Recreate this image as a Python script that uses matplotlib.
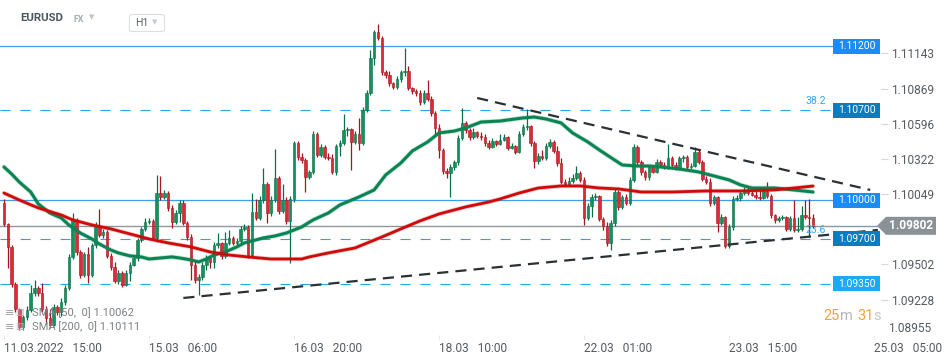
# EURUSD H1 chart with SMA 50/200, levels and a triangle
import numpy as np
import matplotlib
matplotlib.use("Agg")
import matplotlib.pyplot as plt
from matplotlib.patches import Rectangle, Polygon, FancyBboxPatch

plt.rcParams['font.family'] = ['Roboto', 'DejaVu Sans']

# ---- data ----
open0 = 1.09980
close = [1.09816, 1.09638, 1.09350, 1.09156, 1.09016, 1.09093, 1.09148, 1.09280, 1.09319, 1.09280,
         1.09156, 1.09086, 1.09031, 1.09171, 1.09132, 1.09210, 1.09319, 1.09560, 1.09848, 1.09599,
         1.09420, 1.09583, 1.09420, 1.09653, 1.09801, 1.09731, 1.09754, 1.09568, 1.09482, 1.09373,
         1.09435, 1.09342, 1.09435, 1.09498, 1.09552, 1.09692, 1.09778, 1.09832, 1.09840, 1.09708,
         1.10057, 1.10026, 1.10057, 1.09941, 1.09832, 1.09902, 1.09980, 1.09824, 1.09715, 1.09498,
         1.09381, 1.09404, 1.09498, 1.09552, 1.09521, 1.09653, 1.09669, 1.09568, 1.09669, 1.09708,
         1.09669, 1.09684, 1.09778, 1.09793, 1.09575, 1.09910, 1.09863, 1.10003, 1.10127, 1.09902,
         1.10003, 1.10174, 1.09917, 1.10003, 1.09840, 1.10011, 1.10446, 1.10337, 1.10314, 1.10182,
         1.10221, 1.10516, 1.10353, 1.10415, 1.10337, 1.10330, 1.10221, 1.10423, 1.10446, 1.10547,
         1.10555, 1.10454, 1.10516, 1.10446, 1.10703, 1.10835, 1.11107, 1.11309, 1.11263, 1.10998,
         1.10975, 1.10913, 1.10882, 1.10944, 1.10998, 1.11006, 1.10874, 1.10850, 1.10835, 1.10765,
         1.10835, 1.10788, 1.10679, 1.10563, 1.10392, 1.10228, 1.10213, 1.10260, 1.10298, 1.10485,
         1.10602, 1.10547, 1.10493, 1.10532, 1.10501, 1.10493, 1.10446, 1.10415, 1.10462, 1.10438,
         1.10470, 1.10493, 1.10407, 1.10423, 1.10376, 1.10516, 1.10571, 1.10578, 1.10446, 1.10306,
         1.10345, 1.10330, 1.10423, 1.10454, 1.10384, 1.10291, 1.10143, 1.10127, 1.10151, 1.10174,
         1.10213, 1.10159, 1.09863, 1.09956, 1.10026, 1.10034, 1.09855, 1.09801, 1.09669, 1.09824,
         1.10065, 1.09949, 1.10026, 1.09980, 1.10159, 1.10415, 1.10298, 1.10221, 1.10182, 1.10260,
         1.10221, 1.10298, 1.10275, 1.10260, 1.10330, 1.10275, 1.10252, 1.10330, 1.10337, 1.10260,
         1.10267, 1.10376, 1.10298, 1.10166, 1.10143, 1.09980, 1.10026, 1.09824, 1.09871, 1.09645,
         1.09793, 1.10011, 1.10019, 1.10057, 1.10081, 1.10057, 1.10042, 1.10026, 1.10019, 1.10073,
         1.10034, 1.09886, 1.09848, 1.09863, 1.09871, 1.09778, 1.09863, 1.09770, 1.09778, 1.09886,
         1.09871, 1.09863, 1.09802]
high = [1.10011, 1.09824, 1.09653, 1.09365, 1.09163, 1.09109, 1.09179, 1.09342, 1.09381, 1.09334,
        1.09358, 1.09179, 1.09156, 1.09194, 1.09187, 1.09241, 1.09342, 1.09583, 1.09902, 1.09863,
        1.09614, 1.09599, 1.09638, 1.09669, 1.09832, 1.09933, 1.09778, 1.09770, 1.09591, 1.09521,
        1.09459, 1.09451, 1.09459, 1.09521, 1.09575, 1.09708, 1.09793, 1.09863, 1.09863, 1.09855,
        1.10197, 1.10190, 1.10081, 1.10073, 1.09964, 1.09925, 1.10003, 1.10003, 1.09840, 1.09739,
        1.09529, 1.09428, 1.09521, 1.09575, 1.09560, 1.09676, 1.09746, 1.09676, 1.09754, 1.09770,
        1.09723, 1.09708, 1.09801, 1.09816, 1.09809, 1.10057, 1.10011, 1.10034, 1.10252, 1.10143,
        1.10034, 1.10400, 1.10190, 1.10127, 1.10026, 1.10034, 1.10462, 1.10462, 1.10368, 1.10330,
        1.10236, 1.10539, 1.10532, 1.10438, 1.10431, 1.10368, 1.10361, 1.10438, 1.10470, 1.10672,
        1.10571, 1.10563, 1.10539, 1.10641, 1.10726, 1.10858, 1.11169, 1.11325, 1.11371, 1.11278,
        1.11014, 1.11006, 1.10920, 1.10967, 1.11014, 1.11185, 1.11045, 1.10882, 1.10866, 1.10858,
        1.10858, 1.10936, 1.10812, 1.10695, 1.10594, 1.10407, 1.10252, 1.10283, 1.10314, 1.10508,
        1.10718, 1.10617, 1.10563, 1.10563, 1.10539, 1.10532, 1.10516, 1.10470, 1.10485, 1.10470,
        1.10516, 1.10516, 1.10501, 1.10446, 1.10431, 1.10539, 1.10594, 1.10711, 1.10586, 1.10462,
        1.10368, 1.10392, 1.10446, 1.10477, 1.10470, 1.10423, 1.10330, 1.10166, 1.10182, 1.10205,
        1.10267, 1.10228, 1.10182, 1.09980, 1.10050, 1.10057, 1.10042, 1.09871, 1.09832, 1.09848,
        1.10089, 1.10081, 1.10042, 1.10050, 1.10182, 1.10438, 1.10431, 1.10314, 1.10236, 1.10275,
        1.10275, 1.10322, 1.10314, 1.10298, 1.10438, 1.10345, 1.10298, 1.10345, 1.10353, 1.10353,
        1.10291, 1.10415, 1.10392, 1.10314, 1.10190, 1.10174, 1.10042, 1.10034, 1.09894, 1.09879,
        1.09816, 1.10034, 1.10042, 1.10081, 1.10104, 1.10112, 1.10089, 1.10104, 1.10081, 1.10089,
        1.10143, 1.10050, 1.09894, 1.09879, 1.09886, 1.09879, 1.09879, 1.10003, 1.09871, 1.09956,
        1.10003, 1.10011, 1.09894]
low = [1.09801, 1.09474, 1.09327, 1.09132, 1.08992, 1.08992, 1.09070, 1.09132, 1.09257, 1.09257,
       1.09132, 1.09039, 1.09008, 1.09023, 1.09109, 1.09101, 1.09187, 1.09303, 1.09544, 1.09575,
       1.09397, 1.09404, 1.09358, 1.09404, 1.09630, 1.09715, 1.09708, 1.09552, 1.09459, 1.09358,
       1.09350, 1.09327, 1.09334, 1.09373, 1.09490, 1.09529, 1.09676, 1.09762, 1.09816, 1.09692,
       1.09676, 1.10003, 1.10011, 1.09917, 1.09785, 1.09816, 1.09832, 1.09809, 1.09692, 1.09381,
       1.09358, 1.09264, 1.09381, 1.09459, 1.09474, 1.09474, 1.09630, 1.09544, 1.09552, 1.09653,
       1.09653, 1.09653, 1.09661, 1.09762, 1.09552, 1.09560, 1.09848, 1.09848, 1.09980, 1.09824,
       1.09879, 1.09987, 1.09894, 1.09902, 1.09816, 1.09513, 1.09987, 1.10314, 1.10291, 1.10065,
       1.10166, 1.10205, 1.10337, 1.10337, 1.10322, 1.10314, 1.10205, 1.10197, 1.10345, 1.10431,
       1.10501, 1.10236, 1.10438, 1.10392, 1.10431, 1.10687, 1.10819, 1.11053, 1.11247, 1.10975,
       1.10952, 1.10889, 1.10866, 1.10866, 1.10920, 1.10967, 1.10858, 1.10827, 1.10812, 1.10742,
       1.10749, 1.10773, 1.10656, 1.10508, 1.10330, 1.10205, 1.10174, 1.10026, 1.10236, 1.10275,
       1.10470, 1.10524, 1.10470, 1.10477, 1.10485, 1.10470, 1.10423, 1.10400, 1.10407, 1.10423,
       1.10431, 1.10462, 1.10392, 1.10400, 1.10361, 1.10368, 1.10501, 1.10547, 1.10423, 1.10252,
       1.10283, 1.10314, 1.10314, 1.10407, 1.10368, 1.10267, 1.10127, 1.10112, 1.10120, 1.10135,
       1.10159, 1.10143, 1.09809, 1.09848, 1.09871, 1.10003, 1.09840, 1.09770, 1.09645, 1.09614,
       1.09801, 1.09925, 1.09933, 1.09964, 1.09964, 1.10143, 1.10267, 1.10197, 1.10159, 1.10159,
       1.10213, 1.10213, 1.10260, 1.10244, 1.10244, 1.10260, 1.10236, 1.10236, 1.10298, 1.10244,
       1.10244, 1.10260, 1.10283, 1.10151, 1.10127, 1.09956, 1.09964, 1.09754, 1.09809, 1.09630,
       1.09630, 1.09770, 1.09995, 1.09995, 1.10042, 1.10042, 1.10034, 1.10011, 1.10003, 1.10011,
       1.10019, 1.09863, 1.09824, 1.09832, 1.09848, 1.09762, 1.09762, 1.09754, 1.09754, 1.09762,
       1.09855, 1.09715, 1.09785]

sma50_idx = [0, 2, 4, 7, 9, 12, 15, 17, 20, 23, 25, 28, 30, 33, 36, 38, 41, 44, 46, 49, 51, 53, 55,
             58, 61, 63, 66, 68, 71, 74, 78, 81, 85, 88, 93, 97, 100, 104, 107, 111, 114, 118, 121,
             125, 130, 136, 139, 142, 146, 149, 153, 156, 160, 162, 166, 169, 172, 177, 182, 186,
             190, 193, 196, 202, 207, 212]
sma50 = [1.10260, 1.10205, 1.10143, 1.10065, 1.09972, 1.09902, 1.09863, 1.09809, 1.09746, 1.09700,
         1.09661, 1.09614, 1.09591, 1.09568, 1.09560, 1.09544, 1.09552, 1.09560, 1.09552, 1.09537,
         1.09521, 1.09544, 1.09575, 1.09599, 1.09638, 1.09669, 1.09692, 1.09708, 1.09723, 1.09746,
         1.09793, 1.09848, 1.09902, 1.09964, 1.10026, 1.10081, 1.10197, 1.10291, 1.10384, 1.10454,
         1.10524, 1.10539, 1.10563, 1.10609, 1.10617, 1.10641, 1.10648, 1.10633, 1.10602, 1.10524,
         1.10454, 1.10392, 1.10314, 1.10275, 1.10267, 1.10267, 1.10260, 1.10244, 1.10221, 1.10190,
         1.10159, 1.10120, 1.10096, 1.10096, 1.10081, 1.10065]
sma200_idx = [0, 4, 9, 15, 18, 23, 28, 33, 38, 43, 49, 54, 59, 64, 70, 76, 78, 80, 85, 92, 99, 104,
              109, 114, 121, 127, 130, 135, 140, 146, 151, 156, 161, 167, 175, 184, 193, 202, 207, 212]
sma200 = [1.10057, 1.10003, 1.09941, 1.09886, 1.09848, 1.09809, 1.09778, 1.09739, 1.09700, 1.09669,
          1.09638, 1.09599, 1.09575, 1.09560, 1.09544, 1.09544, 1.09544, 1.09560, 1.09591, 1.09630,
          1.09715, 1.09778, 1.09840, 1.09894, 1.09949, 1.09987, 1.10011, 1.10057, 1.10096, 1.10112,
          1.10112, 1.10096, 1.10089, 1.10065, 1.10065, 1.10073, 1.10073, 1.10081, 1.10096, 1.10111]

levels = [1.11200, 1.10700, 1.10000, 1.09700, 1.09350]
level_dashed = [False, True, False, True, True]
level_box = ['#1a8cf7', '#0c7cc2', '#1a8cf7', '#0c7cc2', '#1caaf0']
fib_text = {1.10700: '38.2', 1.09700: '23.6'}

upper_x, upper_y = [124, 227], [1.10796, 1.10081]
lower_x, lower_y = [47, 229], [1.09241, 1.09770]

price_ticks = [1.11143, 1.10869, 1.10596, 1.10322, 1.10049, 1.09502, 1.09228, 1.08955]
date_ticks = [0, 38, 76, 114, 152, 190, 228]
date_labels = ['11.03.2022   15:00', '15.03   06:00', '16.03   20:00', '18.03   10:00',
               '22.03   01:00', '23.03   15:00', '25.03   05:00']
last_price = 1.09802
sma50_last, sma200_last = 1.10062, 1.10111

GREEN, GREEN_E = '#11925e', '#0b6e46'
RED, RED_E = '#dc2b36', '#a5141f'

# ---- figure ----
W, H = 950, 360
fig = plt.figure(figsize=(W / 100, H / 100), dpi=100)
AX_W, AX_H = 881, 335
ax = fig.add_axes([0, (H - AX_H) / H, AX_W / W, AX_H / H])
x0, x1 = -1.048, 229.82
y0, y1 = 1.08953, 1.11558
ax.set_xlim(x0, x1)
ax.set_ylim(y0, y1)
for s in ax.spines.values():
    s.set_visible(False)
px_x = (x1 - x0) / AX_W
px_y = (y1 - y0) / AX_H

def fpos(x, y):
    return x / W, 1 - y / H

# levels
box_l = x0 + 833 * px_x
box_r = x0 + 880 * px_x
for lv, dsh, bc in zip(levels, level_dashed, level_box):
    if dsh:
        ax.plot([x0, box_l], [lv, lv], color='#22a6ee', lw=0.8, ls=(0, (9, 9)), zorder=1)
    else:
        ax.plot([x0, box_l], [lv, lv], color='#3f9cf5', lw=0.9, zorder=1)
    ax.add_patch(Rectangle((box_l, lv - 7.5 * px_y), box_r - box_l, 15 * px_y,
                           facecolor=bc, edgecolor='none', zorder=6))
    ax.text((box_l + box_r) / 2, lv, '%.5f' % lv, color='white', fontsize=7.4,
            ha='center', va='center', zorder=7)
    if lv in fib_text:
        ax.text(x0 + 826 * px_x, lv + 4 * px_y, fib_text[lv], color='#35a8f2',
                fontsize=7.6, ha='right', va='bottom', zorder=7)

# current price line
tip_x = x0 + 877 * px_x
ax.plot([x0, tip_x], [last_price, last_price], color='#8f979b', lw=1.0, zorder=1)

# candles
c = np.array(close)
o = np.r_[open0, c[:-1]]
hi = np.maximum(np.array(high), np.maximum(o, c))
lo = np.minimum(np.array(low), np.minimum(o, c))
idx = np.arange(len(c))
up = c >= o
ax.vlines(idx, lo, hi, colors=np.where(up, GREEN_E, RED_E), lw=0.9, zorder=2)
ax.bar(idx, np.maximum(np.abs(c - o), 1.2 * px_y), bottom=np.minimum(o, c), width=0.66,
       color=np.where(up, GREEN, RED), edgecolor=np.where(up, GREEN_E, RED_E),
       linewidth=0.4, zorder=3)

# moving averages
ax.plot(sma50_idx, sma50, color='#0d8a58', lw=3.3, alpha=0.25, zorder=4, solid_capstyle='round')
ax.plot(sma50_idx, sma50, color='#0b8454', lw=2.2, zorder=4, solid_capstyle='round')
ax.plot(sma200_idx, sma200, color='#d20c0c', lw=3.1, alpha=0.25, zorder=4, solid_capstyle='round')
ax.plot(sma200_idx, sma200, color='#cf0a0a', lw=2.0, zorder=4, solid_capstyle='round')

# triangle
ax.plot(upper_x, upper_y, color='#2b3035', lw=1.6, ls=(0, (5, 3.2)), zorder=5)
ax.plot(lower_x, lower_y, color='#2b3035', lw=1.6, ls=(0, (5, 3.2)), zorder=5)

# current price box
tip = (tip_x, last_price)
bl = x0 + 886 * px_x
br = x0 + 936 * px_x
hh = 9 * px_y
ax.add_patch(Polygon([tip, (bl, last_price + hh), (br, last_price + hh),
                      (br, last_price - hh), (bl, last_price - hh)], closed=True,
                     facecolor='#8a9297', edgecolor='none', clip_on=False, zorder=8))
ax.text((bl + br) / 2, last_price, '%.5f' % last_price, color='white', fontsize=8.6,
        fontweight='bold', ha='center', va='center', clip_on=False, zorder=9)

# axes ticks
ax.yaxis.tick_right()
ax.set_yticks(price_ticks[:-1])
ax.set_yticklabels(['%.5f' % t for t in price_ticks[:-1]])
ax.tick_params(axis='y', length=5, width=0.8, color='#d5d8da', labelsize=8.6,
               labelcolor='#545b61', pad=2)
ax.text(x1 + 7 * px_x, price_ticks[-1], '%.5f' % price_ticks[-1], fontsize=8.6,
        color='#545b61', ha='left', va='bottom', clip_on=False)
ax.set_xticks(date_ticks)
ax.set_xticklabels(date_labels, ha='left')
ax.tick_params(axis='x', length=3, width=0.6, color='#e0e2e4', labelsize=8.6,
               labelcolor='#545b61', pad=2)

# header
fig.text(*fpos(20, 18), 'EURUSD', fontsize=8.2, fontweight='bold', color='#4b5660', va='center')
fig.text(*fpos(73, 19), 'FX', fontsize=6.4, fontweight='bold', color='#a3adb5', va='center')
fig.text(*fpos(89, 17), '\u25BC', fontsize=5, color='#bcc3c8', va='center', family='DejaVu Sans')
hb = FancyBboxPatch(fpos(129.5, 31.5), 35 / W, 17 / H, boxstyle='round,pad=0,rounding_size=0.004',
                    transform=fig.transFigure, facecolor='white', edgecolor='#dcdfe2', lw=0.8)
fig.patches.append(hb)
fig.text(*fpos(135, 23), 'H1', fontsize=7.6, color='#59616a', va='center')
fig.text(*fpos(152, 22.5), '\u25BC', fontsize=5, color='#c3c8cc', va='center', family='DejaVu Sans')

# legend
for yy, lab in [(313, 'SMA [50,  0] %.5f' % sma50_last), (327, 'SMA [200,  0] %.5f' % sma200_last)]:
    fig.text(*fpos(5, yy), '\u2261', fontsize=8, color='#9a9fa3', va='center', family='DejaVu Sans')
    fig.text(*fpos(15, yy), '\u25A5', fontsize=6.5, color='#a9aeb2', va='center', family='DejaVu Sans')
    fig.text(*fpos(32, yy), lab, fontsize=8, color='#7b8186', va='center')

# countdown
fig.text(*fpos(823, 316), '25', fontsize=10.5, color='#f6a23a', va='center')
fig.text(*fpos(840, 316), 'm', fontsize=10.5, color='#b4b8bb', va='center')
fig.text(*fpos(857, 316), '31', fontsize=10.5, color='#f6a23a', va='center')
fig.text(*fpos(873, 316), 's', fontsize=10.5, color='#c4c8cb', va='center')

fig.savefig('out.png', dpi=100, facecolor='white')
